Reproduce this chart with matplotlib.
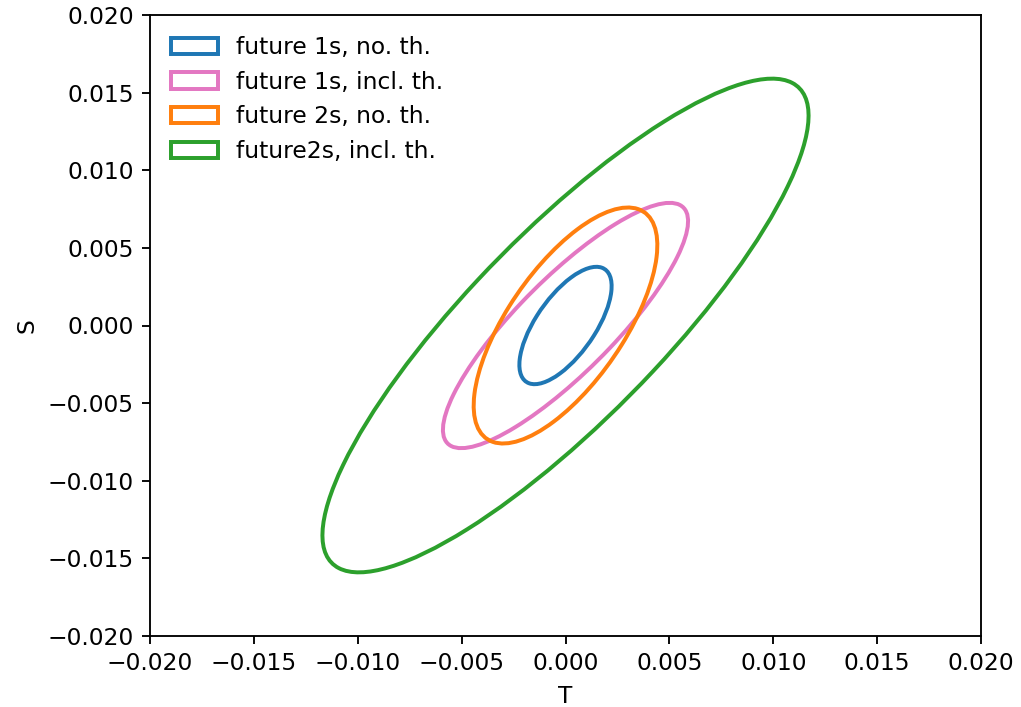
import numpy as np
import matplotlib
matplotlib.use("Agg")
import matplotlib.pyplot as plt
from matplotlib.patches import Ellipse
from matplotlib.ticker import FuncFormatter

# Confidence regions in the (T, S) plane
labels = ["future 1s, no. th.", "future 1s, incl. th.",
          "future 2s, no. th.", "future2s, incl. th."]
colors = ["#1f77b4", "#e377c2", "#ff7f0e", "#2ca02c"]
half_T = [0.00222, 0.0059, 0.00442, 0.0117]   # half-extent along T
half_S = [0.00378, 0.0079, 0.0076, 0.0159]    # half-extent along S
corr = [0.67, 0.85, 0.68, 0.85]               # T-S correlation
center_T = [0.0, 0.0, 0.0, 0.0]
center_S = [0.0, 0.0, 0.0, 0.0]
ticks = [-0.020, -0.015, -0.010, -0.005, 0.0, 0.005, 0.010, 0.015, 0.020]

dpi = 168
fig = plt.figure(figsize=(1021 / dpi, 707 / dpi), dpi=dpi)
ax = fig.add_axes([150 / 1021, 1 - 636 / 707, 831 / 1021, 621 / 707])

for lab, c, sT, sS, r, cx, cy in zip(labels, colors, half_T, half_S, corr,
                                     center_T, center_S):
    cov = np.array([[sT ** 2, r * sT * sS], [r * sT * sS, sS ** 2]])
    vals, vecs = np.linalg.eigh(cov)
    order = vals.argsort()[::-1]
    vals, vecs = vals[order], vecs[:, order]
    angle = np.degrees(np.arctan2(vecs[1, 0], vecs[0, 0]))
    width, height = 2 * np.sqrt(vals)
    ax.add_patch(Ellipse((cx, cy), width, height, angle=angle,
                         fill=False, edgecolor=c, linewidth=1.7, label=lab))

fmt = FuncFormatter(lambda v, _: f"{v:.3f}".replace("-", "\u2212")
                    if abs(v) > 1e-12 else "0.000")
ax.set_xlim(-0.02, 0.02)
ax.set_ylim(-0.02, 0.02)
ax.set_xticks(ticks)
ax.set_yticks(ticks)
ax.xaxis.set_major_formatter(fmt)
ax.yaxis.set_major_formatter(fmt)
ax.set_xlabel("T")
ax.set_ylabel("S")
ax.legend(loc="upper left", frameon=False)

fig.savefig("out.png", dpi=dpi)
